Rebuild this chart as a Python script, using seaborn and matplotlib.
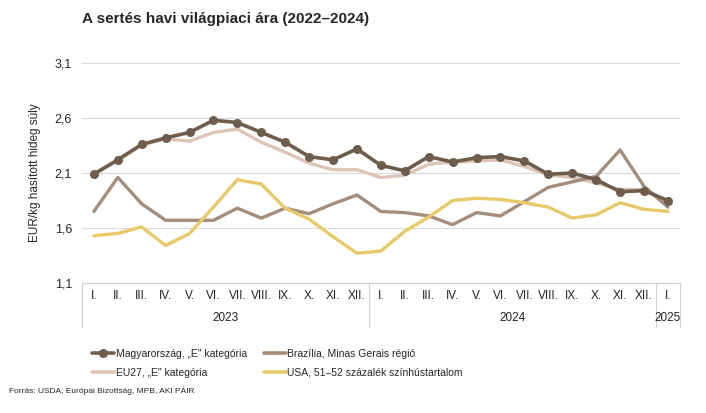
import numpy as np
import pandas as pd
import seaborn as sns
import matplotlib.pyplot as plt
from matplotlib.lines import Line2D

# havi címkék és évek
months = ['I.', 'II.', 'III.', 'IV.', 'V.', 'VI.', 'VII.', 'VIII.', 'IX.', 'X.', 'XI.', 'XII.',
          'I.', 'II.', 'III.', 'IV.', 'V.', 'VI.', 'VII.', 'VIII.', 'IX.', 'X.', 'XI.', 'XII.',
          'I.']
years = ['2023', '2024', '2025']
year_len = [12, 12, 1]

# EUR/kg, leolvasott értékek
hun = [2.09, 2.22, 2.36, 2.42, 2.47, 2.58, 2.56, 2.47, 2.38, 2.25, 2.22, 2.32,
       2.17, 2.12, 2.25, 2.20, 2.24, 2.25, 2.21, 2.09, 2.10, 2.04, 1.93, 1.94,
       1.85]
eu27 = [2.09, 2.22, 2.36, 2.41, 2.39, 2.47, 2.50, 2.38, 2.29, 2.19, 2.13, 2.13,
        2.06, 2.08, 2.18, 2.20, 2.21, 2.22, 2.16, 2.08, 2.06, 2.01, 1.95, 1.95,
        1.84]
bra = [1.75, 2.06, 1.82, 1.67, 1.67, 1.67, 1.78, 1.69, 1.78, 1.73, 1.82, 1.90,
       1.75, 1.74, 1.71, 1.63, 1.74, 1.71, 1.84, 1.97, 2.02, 2.07, 2.31, 1.98,
       1.79]
usa = [1.53, 1.55, 1.61, 1.44, 1.55, 1.79, 2.04, 2.00, 1.78, 1.68, 1.52, 1.37,
       1.39, 1.57, 1.70, 1.85, 1.87, 1.86, 1.83, 1.79, 1.69, 1.72, 1.83, 1.77,
       1.75]

labels = ['Magyarország, „E" kategória', 'EU27, „E" kategória',
          'Brazília, Minas Gerais régió', 'USA, 51–52 százalék színhústartalom']
colors = ['#6e5d4d', '#dcc5b8', '#a38e7d', '#e8c96a']

sns.set_style('white')
plt.rcParams['font.family'] = ['Liberation Sans', 'DejaVu Sans']

fig = plt.figure(figsize=(7.06, 4.13), dpi=100)
ax = fig.add_axes([0.116, 0.315, 0.847, 0.532])

x = np.arange(len(months))
# rajzolási sorrend: EU27, Brazília, USA alul, Magyarország felül
order = [1, 2, 3, 0]
series = [hun, eu27, bra, usa]
for i in order:
    df = pd.DataFrame({'x': x, 'y': series[i]})
    if i == 0:
        sns.lineplot(data=df, x='x', y='y', ax=ax, color=colors[i], lw=2.6,
                     marker='o', markersize=6.5, markeredgewidth=0, zorder=5)
    else:
        sns.lineplot(data=df, x='x', y='y', ax=ax, color=colors[i], lw=2.4, zorder=3)

ax.set_xlim(-0.5, len(months) - 0.5)
ax.set_ylim(1.1, 3.1)
yt = [1.1, 1.6, 2.1, 2.6, 3.1]
ax.set_yticks(yt)
ax.set_yticklabels([f'{v:.1f}'.replace('.', ',') for v in yt], fontsize=9)
ax.grid(axis='y', color='#d9d9d9', lw=0.8)
ax.set_axisbelow(True)
for s in ['top', 'right', 'left']:
    ax.spines[s].set_visible(False)
ax.spines['bottom'].set_color('#d0d0d0')
ax.tick_params(axis='y', length=0, pad=7)
ax.set_xticks([])
ax.set_xlabel('')
ax.set_ylabel('EUR/kg hasított hideg súly', fontsize=8.5, labelpad=10)

# kétszintű kategóriatengely
tr = ax.get_xaxis_transform()
for xi, m in zip(x, months):
    ax.text(xi, -0.06, m, transform=tr, ha='center', va='center', fontsize=8.5,
            color='#222222')
start = 0
edges = [-0.5]
for y_, n in zip(years, year_len):
    mid = start + (n - 1) / 2
    ax.text(mid, -0.16, y_, transform=tr, ha='center', va='center', fontsize=8.5,
            color='#222222')
    start += n
    edges.append(start - 0.5)
for e in edges:
    ax.plot([e, e], [0, -0.2], transform=tr, color='#d0d0d0', lw=0.8, clip_on=False)

fig.text(0.116, 0.955, 'A sertés havi világpiaci ára (2022–2024)', fontsize=11,
         fontweight='bold', ha='left', va='center')

handles = [
    Line2D([], [], color=colors[0], lw=2.6, marker='o', markersize=6.5, markeredgewidth=0),
    Line2D([], [], color=colors[1], lw=2.6),
    Line2D([], [], color=colors[2], lw=2.6),
    Line2D([], [], color=colors[3], lw=2.6),
]
fig.legend(handles, labels, loc='upper left', bbox_to_anchor=(0.125, 0.166), ncol=2,
           frameon=False, handlelength=2.1, handletextpad=0.15,
           columnspacing=1.6, labelspacing=0.9, borderaxespad=0,
           prop={'size': 7.5})

fig.text(0.013, 0.055, 'Forrás: USDA, Európai Bizottság, MPB, AKI PÁIR', fontsize=6,
         ha='left', va='center')

fig.savefig('out.png', dpi=100)
